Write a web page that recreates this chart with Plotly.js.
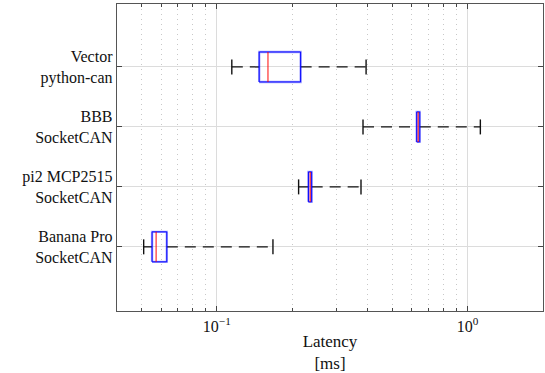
<!DOCTYPE html>
<html><head><meta charset="utf-8">
<script src="https://cdn.plot.ly/plotly-3.0.1.min.js"></script>
<style>html,body{margin:0;padding:0;background:#fff}#chart{width:545px;height:373px}</style>
</head><body><div id="chart"></div>
<script>
// Data (latency in ms), bottom to top
const categories = ["Banana Pro<br>SocketCAN", "pi2 MCP2515<br>SocketCAN", "BBB<br>SocketCAN", "Vector<br>python-can"];
const positions = [1, 2, 3, 4];
const whiskerLow  = [0.0511, 0.212, 0.383, 0.1148];
const q1          = [0.0552, 0.232, 0.627, 0.1476];
const median      = [0.0573, 0.236, 0.636, 0.160];
const q3          = [0.0632, 0.239, 0.645, 0.216];
const whiskerHigh = [0.1675, 0.376, 1.125, 0.394];

const majorTicks = [0.1, 1];
const majorTickText = ["10<sup>−1</sup>", "10<sup>0</sup>"];
const minorTicks = [0.05, 0.06, 0.07, 0.08, 0.09, 0.2, 0.3, 0.4, 0.5, 0.6, 0.7, 0.8, 0.9, 2];

const halfBox = 0.25, halfCap = 0.125;
const wx = [], wy = [], bx = [], by = [], mx = [], my = [], cx = [], cy = [];
positions.forEach((p, i) => {
  wx.push(whiskerLow[i], q1[i], null, q3[i], whiskerHigh[i], null);
  wy.push(p, p, null, p, p, null);
  bx.push(q1[i], q3[i], q3[i], q1[i], q1[i], null);
  by.push(p - halfBox, p - halfBox, p + halfBox, p + halfBox, p - halfBox, null);
  mx.push(median[i], median[i], null);
  my.push(p - halfBox, p + halfBox, null);
  cx.push(whiskerLow[i], whiskerLow[i], null, whiskerHigh[i], whiskerHigh[i], null);
  cy.push(p - halfCap, p + halfCap, null, p - halfCap, p + halfCap, null);
});

const FAM = "Liberation Serif, Times New Roman, serif";
const traces = [
  {x: wx, y: wy, mode: "lines", line: {color: "#111", width: 1.3, dash: "11px,7px"}, hoverinfo: "skip"},
  {x: bx, y: by, mode: "lines", line: {color: "rgba(0,0,255,0.35)", width: 2.4}, hoverinfo: "skip"},
  {x: bx, y: by, mode: "lines", line: {color: "#0000ff", width: 1}, hoverinfo: "skip"},
  {x: mx, y: my, mode: "lines", line: {color: "rgba(255,0,0,0.7)", width: 1.4}, hoverinfo: "skip"},
  {x: cx, y: cy, mode: "lines", line: {color: "#111", width: 1.4}, hoverinfo: "skip"}
];

const layout = {
  width: 545, height: 373,
  margin: {l: 117, r: 2, t: 4, b: 62},
  showlegend: false,
  paper_bgcolor: "#fff", plot_bgcolor: "#fff",
  font: {family: FAM, size: 16, color: "#111"},
  xaxis: {
    type: "log",
    range: [Math.log10(0.04), Math.log10(2.0)],
    tickvals: majorTicks, ticktext: majorTickText,
    ticks: "inside", ticklen: 5, tickcolor: "#444",
    showgrid: true, gridcolor: "#dcdcdc", gridwidth: 1,
    showline: true, linecolor: "#555", linewidth: 1.3, mirror: "allticks",
    zeroline: false,
    minor: {tickvals: minorTicks, ticks: "inside", ticklen: 3, tickcolor: "#444",
            showgrid: true, gridcolor: "#c8c8c8", griddash: "1px,4px", gridwidth: 1},
    tickfont: {family: FAM, size: 16, color: "#111"},
    title: {text: "Latency<br>[ms]", font: {family: FAM, size: 17, color: "#111"}, standoff: 4}
  },
  yaxis: {
    range: [-0.07, 5.05],
    tickvals: positions, ticktext: categories,
    ticks: "inside", ticklen: 5, tickcolor: "#444",
    showgrid: true, gridcolor: "#dcdcdc", gridwidth: 1,
    showline: true, linecolor: "#555", linewidth: 1.3, mirror: "allticks",
    zeroline: false,
    tickfont: {family: FAM, size: 16, color: "#111"}
  }
};
Plotly.newPlot("chart", traces, layout, {staticPlot: true, displayModeBar: false});
</script></body></html>
